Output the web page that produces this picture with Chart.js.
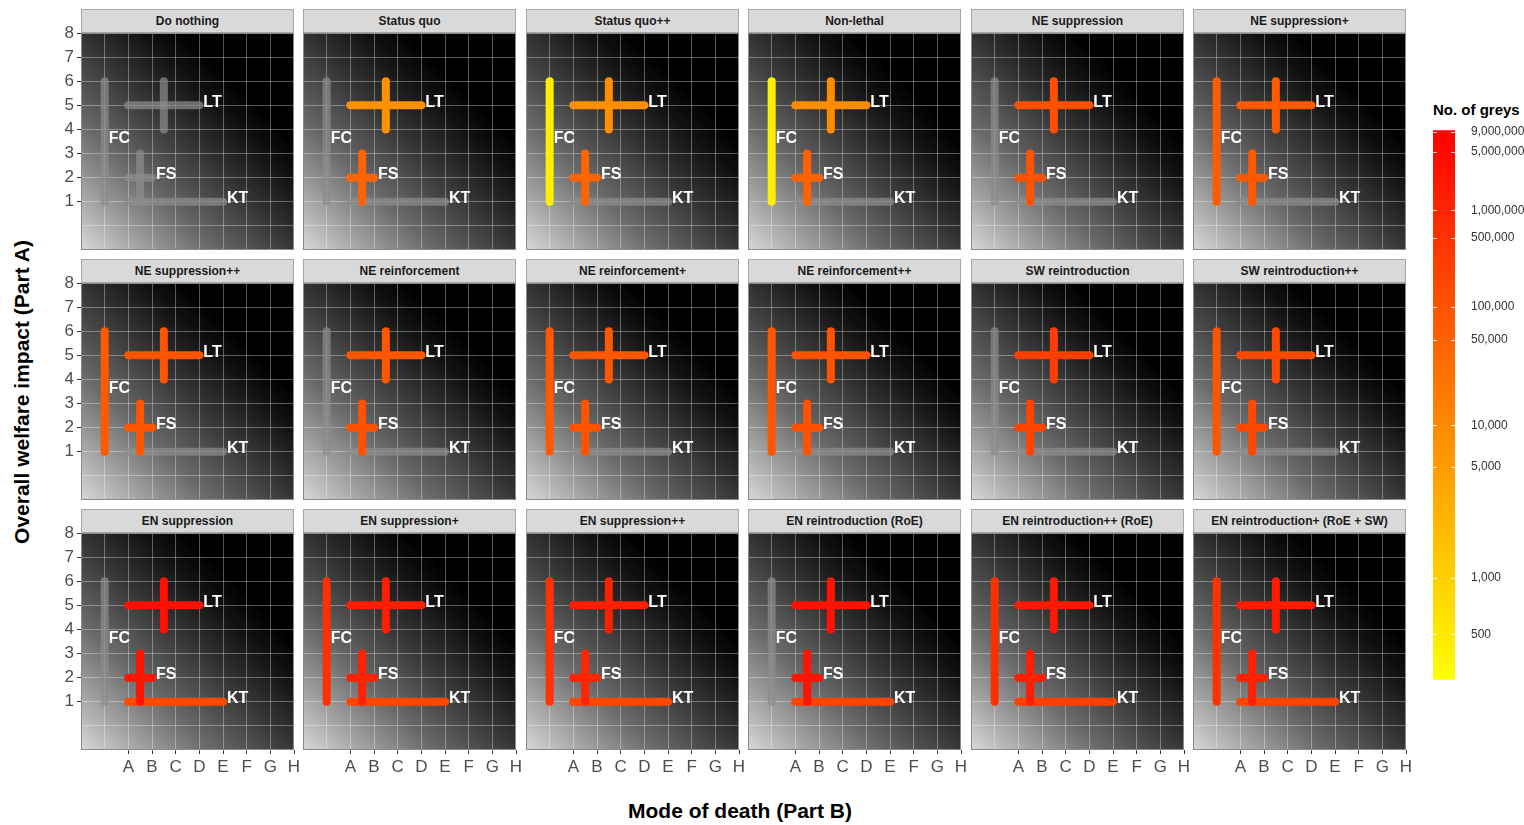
<!DOCTYPE html>
<html>
<head>
<meta charset="utf-8">
<script src="https://cdn.jsdelivr.net/npm/chart.js@4.4.0/dist/chart.umd.min.js"></script>
<style>
body { margin: 0; background: #fff; font-family: 'Liberation Sans', Arial, sans-serif; }
#wrap { position: relative; width: 1524px; height: 825px; overflow: hidden; }
#wrap canvas { position: absolute; }
.strip { position: absolute; box-sizing: border-box; background: #d9d9d9; border: 1px solid #a6a6a6;
  font-weight: bold; font-size: 12px; color: #1a1a1a; text-align: center; line-height: 22px; white-space: nowrap; }
.axis-title { position: absolute; font-weight: bold; font-size: 21px; color: #000; white-space: nowrap; }
#legendTitle { position: absolute; left: 1433px; top: 101px; font-weight: bold; font-size: 15px; color: #000; }
</style>
</head>
<body>
<div id="wrap">
  <div class="axis-title" style="left:628px; top:799px;">Mode of death (Part B)</div>
  <div class="axis-title" style="left:22px; top:392px; transform: translate(-50%, -50%) rotate(-90deg);">Overall welfare impact (Part A)</div>
  <div id="legendTitle">No. of greys</div>
</div>
<script>
// DATA
const panelNames = [
    'Do nothing', 'Status quo', 'Status quo++', 'Non-lethal', 'NE suppression', 'NE suppression+',
    'NE suppression++', 'NE reinforcement', 'NE reinforcement+', 'NE reinforcement++', 'SW reintroduction', 'SW reintroduction++',
    'EN suppression', 'EN suppression+', 'EN suppression++', 'EN reintroduction (RoE)', 'EN reintroduction++ (RoE)', 'EN reintroduction+ (RoE + SW)'
];

// technique positions: x = mode of death (A=1 .. H=8), y = welfare impact
const techniques = ['FC', 'KT', 'LT', 'FS'];
const xLow = [0, 1, 1, 1];
const xHigh = [0, 5, 4, 2];
const xCentre = [0, 3, 2.5, 1.5];
const yLow = [1, 1, 4, 1];
const yHigh = [6, 1, 6, 3];
const yCentre = [3.5, 1, 5, 2];

// number of greys per panel (null = technique not used, drawn grey)
const fcGreys = [null, null, 430, 430, null, 63000, 70000, null, 75000, 80000, null, 90000,
    null, 550000, 500000, null, 550000, 500000];
const ktGreys = [null, null, null, null, null, null, null, null, null, null, null, null,
    150000, 170000, 170000, 200000, 240000, 200000];
const ltGreys = [null, 7500, 8000, 8900, 110000, 70000, 90000, 80000, 85000, 95000, 250000, 160000,
    3500000, 1500000, 1500000, 3000000, 2000000, 1800000];
const fsGreys = [null, 45000, 45000, 50000, 95000, 75000, 90000, 100000, 95000, 100000, 200000, 160000,
    2700000, 1200000, 1000000, 2700000, 1500000, 1350000];

const xTickLabels = ['A', 'B', 'C', 'D', 'E', 'F', 'G', 'H'];
const yTickLabels = ['1', '2', '3', '4', '5', '6', '7', '8'];
const legendTicks = [500, 1000, 5000, 10000, 50000, 100000, 500000, 1000000, 5000000, 9000000];
const colourMin = 300;
const colourMax = 9500000;

// LAYOUT
const COL_X = [81, 303, 526, 748, 971, 1193];
const ROW_Y = [33, 283, 533];
const PLOT_W = 213;
const PLOT_H = 217;
const PAD = { left: 6, right: 12, top: 14, bottom: 14 };
const FONT = "'Liberation Sans', Arial, sans-serif";

Chart.defaults.font.family = FONT;

const wrap = document.getElementById('wrap');
const greysByTechnique = [fcGreys, ktGreys, ltGreys, fsGreys];

// log-log colour transform
const tr = v => Math.log(Math.log10(v));

function colourFor(v) {
    if (v == null) return 'rgba(140,140,140,0.72)';
    const frac = (tr(v) - tr(colourMin)) / (tr(colourMax) - tr(colourMin));
    const g = Math.round(255 * (1 - Math.min(1, Math.max(0, frac))));
    return `rgb(255,${g},0)`;
}

// PLUGINS
const backgroundPlugin = {
    id: 'bgGradient',
    beforeDraw(chart) {
        const a = chart.chartArea;
        const ctx = chart.ctx;
        const g = ctx.createLinearGradient(a.left, a.bottom, a.right, a.top);
        g.addColorStop(0, '#d8d8d8');
        g.addColorStop(0.15, '#a0a0a0');
        g.addColorStop(0.3, '#6a6a6a');
        g.addColorStop(0.5, '#353535');
        g.addColorStop(0.65, '#121212');
        g.addColorStop(0.75, '#000000');
        g.addColorStop(1, '#000000');
        ctx.save();
        ctx.fillStyle = g;
        ctx.fillRect(a.left, a.top, a.right - a.left, a.bottom - a.top);
        ctx.restore();
    }
};

const labelPlugin = {
    id: 'techLabels',
    afterDatasetsDraw(chart) {
        const ctx = chart.ctx;
        const xs = chart.scales.x, ys = chart.scales.y;
        ctx.save();
        ctx.font = 'bold 16px ' + FONT;
        ctx.fillStyle = '#ffffff';
        ctx.textAlign = 'left';
        ctx.textBaseline = 'middle';
        techniques.forEach((t, i) => {
            ctx.fillText(t, xs.getPixelForValue(xHigh[i]) + 4, ys.getPixelForValue(yCentre[i]) - 3);
        });
        ctx.restore();
    },
    afterDraw(chart) {
        const a = chart.chartArea;
        const ctx = chart.ctx;
        ctx.save();
        ctx.strokeStyle = '#8a8a8a';
        ctx.lineWidth = 1;
        ctx.strokeRect(a.left + 0.5, a.top + 0.5, a.right - a.left - 1, a.bottom - a.top - 1);
        ctx.restore();
    }
};

// PANELS
panelNames.forEach((name, p) => {
    const col = p % 6, row = Math.floor(p / 6);
    const plotLeft = COL_X[col], plotTop = ROW_Y[row];
    const yW = col === 0 ? 30 : 0;
    const xH = row === 2 ? 28 : 0;

    const strip = document.createElement('div');
    strip.className = 'strip';
    strip.style.left = plotLeft + 'px';
    strip.style.top = (plotTop - 24) + 'px';
    strip.style.width = PLOT_W + 'px';
    strip.style.height = '24px';
    strip.textContent = name;
    wrap.appendChild(strip);

    const canvas = document.createElement('canvas');
    canvas.width = yW + PAD.left + PLOT_W + PAD.right;
    canvas.height = PAD.top + PLOT_H + xH + PAD.bottom;
    canvas.style.left = (plotLeft - PAD.left - yW) + 'px';
    canvas.style.top = (plotTop - PAD.top) + 'px';
    wrap.appendChild(canvas);

    // draw order: FC, KT, LT, FS (later on top)
    const drawList = [];
    techniques.forEach((t, i) => {
        const colour = colourFor(greysByTechnique[i][p]);
        const base = { showLine: true, borderColor: colour, backgroundColor: colour, borderWidth: 8,
            borderCapStyle: 'round', pointRadius: 0, pointHoverRadius: 0 };
        if (xLow[i] !== xHigh[i]) {
            drawList.push(Object.assign({ label: t + ' h', data: [{ x: xLow[i], y: yCentre[i] }, { x: xHigh[i], y: yCentre[i] }] }, base));
        }
        if (yLow[i] !== yHigh[i]) {
            drawList.push(Object.assign({ label: t + ' v', data: [{ x: xCentre[i], y: yLow[i] }, { x: xCentre[i], y: yHigh[i] }] }, base));
        }
    });
    // Chart.js paints the first dataset last
    const datasets = drawList.reverse();

    const tickColour = c => (c.tick && c.tick.value >= 1) ? '#333333' : 'rgba(0,0,0,0)';

    new Chart(canvas, {
        type: 'scatter',
        data: { datasets },
        options: {
            responsive: false,
            animation: false,
            events: [],
            layout: { padding: PAD },
            plugins: { legend: { display: false }, tooltip: { enabled: false } },
            scales: {
                x: {
                    type: 'linear', min: -1, max: 8,
                    afterFit: s => { s.height = xH; },
                    border: { display: false },
                    grid: { color: 'rgba(255,255,255,0.33)', lineWidth: 1, drawTicks: row === 2, tickLength: 4, tickColor: tickColour },
                    ticks: {
                        display: row === 2, stepSize: 1, autoSkip: false, maxRotation: 0, padding: 3,
                        color: '#4d4d4d', font: { size: 17 },
                        callback: v => (v >= 1 && v <= 8) ? xTickLabels[v - 1] : ''
                    }
                },
                y: {
                    type: 'linear', min: -1, max: 8,
                    afterFit: s => { s.width = yW; },
                    border: { display: false },
                    grid: { color: 'rgba(255,255,255,0.33)', lineWidth: 1, drawTicks: col === 0, tickLength: 4, tickColor: tickColour },
                    ticks: {
                        display: col === 0, stepSize: 1, autoSkip: false, padding: 3,
                        color: '#4d4d4d', font: { size: 17 },
                        callback: v => (v >= 1 && v <= 8) ? yTickLabels[v - 1] : ''
                    }
                }
            }
        },
        plugins: [backgroundPlugin, labelPlugin]
    });
});

// COLOUR BAR LEGEND
const legendCanvas = document.createElement('canvas');
legendCanvas.width = 91;
legendCanvas.height = 580;
legendCanvas.style.left = '1433px';
legendCanvas.style.top = '115px';
wrap.appendChild(legendCanvas);

const barTicksPlugin = {
    id: 'barTicks',
    afterDatasetsDraw(chart) {
        const a = chart.chartArea, ys = chart.scales.y, ctx = chart.ctx;
        ctx.save();
        ctx.strokeStyle = 'rgba(255,255,255,0.8)';
        ctx.lineWidth = 1;
        legendTicks.forEach(v => {
            const y = Math.round(ys.getPixelForValue(tr(v))) + 0.5;
            ctx.beginPath();
            ctx.moveTo(a.left, y); ctx.lineTo(a.left + 4, y);
            ctx.moveTo(a.right - 4, y); ctx.lineTo(a.right, y);
            ctx.stroke();
        });
        ctx.restore();
    }
};

new Chart(legendCanvas, {
    type: 'bar',
    data: {
        labels: [''],
        datasets: [{
            data: [[tr(colourMin), tr(colourMax)]],
            borderWidth: 0,
            barPercentage: 1,
            categoryPercentage: 1,
            backgroundColor: c => {
                const a = c.chart.chartArea;
                if (!a) return '#ff8000';
                const g = c.chart.ctx.createLinearGradient(0, a.bottom, 0, a.top);
                g.addColorStop(0, 'rgb(255,255,0)');
                g.addColorStop(1, 'rgb(255,0,0)');
                return g;
            }
        }]
    },
    options: {
        responsive: false,
        animation: false,
        events: [],
        layout: { padding: { top: 10, bottom: 15, left: 0, right: 0 } },
        plugins: { legend: { display: false }, tooltip: { enabled: false } },
        scales: {
            x: { display: false },
            y: {
                position: 'right',
                min: tr(colourMin), max: tr(colourMax),
                afterBuildTicks: s => { s.ticks = legendTicks.map(v => ({ value: tr(v) })); },
                afterFit: s => { s.width = 69; },
                grid: { display: false },
                border: { display: false },
                ticks: {
                    padding: 8, color: '#333333', font: { size: 12 }, autoSkip: false,
                    callback: (v, i) => legendTicks[i].toLocaleString('en-US')
                }
            }
        }
    },
    plugins: [barTicksPlugin]
});
</script>
</body>
</html>
